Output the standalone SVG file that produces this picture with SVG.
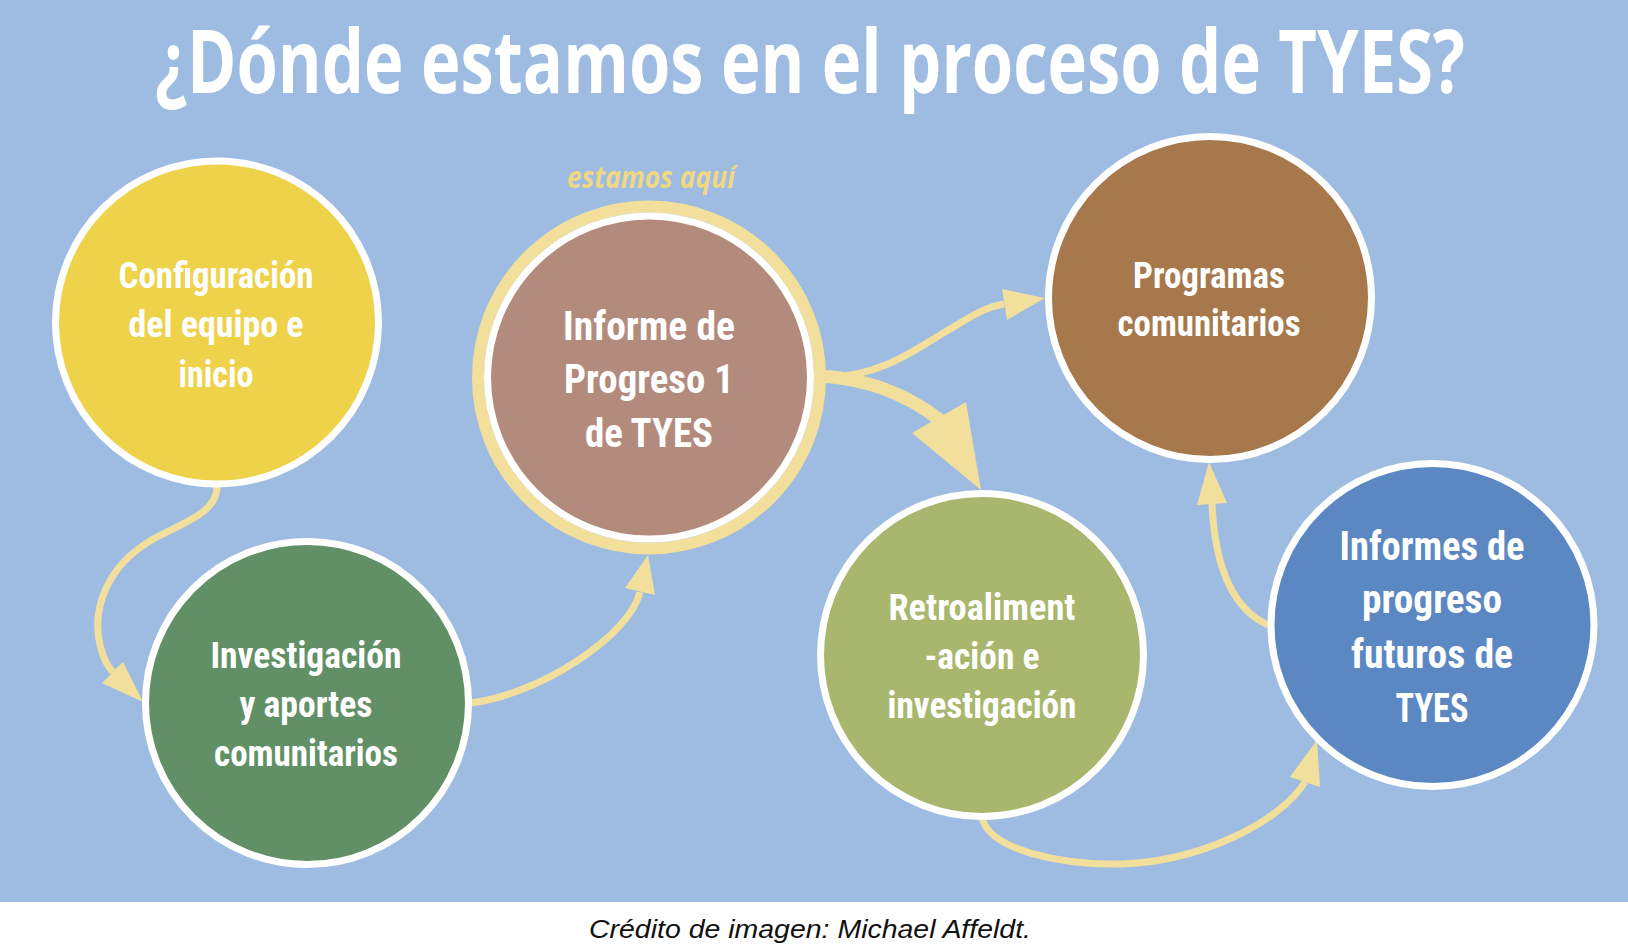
<svg xmlns="http://www.w3.org/2000/svg" width="1628" height="952" viewBox="0 0 1628 952">
<style>
.bg{fill:#9EBCE1}
.node{stroke:#FFFFFF;stroke-width:7}
.lbl{font-family:"Liberation Sans Narrow","Roboto Condensed","Open Sans","Liberation Sans",sans-serif;font-weight:bold;fill:#FFFFFF;text-anchor:middle}
.s{font-size:37px}
.l{font-size:41px}
.conn{fill:none;stroke:#F2DF9C;stroke-width:7}
.thick{stroke-width:13}
.head{fill:#F2DF9C}
</style>
<rect x="0" y="0" width="1628" height="952" fill="#FFFFFF"/>
<rect class="bg" x="0" y="0" width="1628" height="902"/>
<text x="810" y="93" font-family="'Liberation Sans Narrow','Open Sans','Liberation Sans',sans-serif" font-weight="bold" font-size="88" fill="#FFFFFF" text-anchor="middle" textLength="1310" lengthAdjust="spacingAndGlyphs">¿Dónde estamos en el proceso de TYES?</text>
<g id="connectors">
<path class="conn" d="M217,487 C217,512 185,522 155,538 C105,566 92,610 100,645 C103,658 107,666 113,672"/>
<polygon class="head" points="102,683 123,662 143,702"/>
<path class="conn" d="M470,703 C540,695 630,635 640,592"/>
<polygon class="head" points="625,588 655,595 648,555"/>
<path class="conn thick" d="M818,376 C865,378 905,393 940,420"/>
<polygon class="head" points="912,433 966,402 981,490"/>
<path class="conn" d="M830,377 C880,376 915,350 945,332 C970,317 985,307 1004,304"/>
<polygon class="head" points="1002,289 1007,320 1045,298"/>
<path class="conn" d="M982,818 C990,850 1060,865 1120,864 C1200,862 1280,822 1305,782"/>
<polygon class="head" points="1290,777 1320,787 1317,740"/>
<path class="conn" d="M1268,625 C1235,610 1215,570 1212,504"/>
<polygon class="head" points="1197,505 1227,503 1209,462"/>
</g>
<g id="node-configuracion">
<circle class="node" cx="217" cy="322.5" r="161.5" fill="#EDD24A"/>
<text class="lbl s" x="216" y="288" textLength="195" lengthAdjust="spacingAndGlyphs">Configuración</text>
<text class="lbl s" x="216" y="337" textLength="175" lengthAdjust="spacingAndGlyphs">del equipo e</text>
<text class="lbl s" x="216" y="387" textLength="75" lengthAdjust="spacingAndGlyphs">inicio</text>
</g>
<g id="node-investigacion">
<circle class="node" cx="307" cy="703" r="161.5" fill="#629066"/>
<text class="lbl s" x="306" y="668" textLength="191" lengthAdjust="spacingAndGlyphs">Investigación</text>
<text class="lbl s" x="306" y="717" textLength="133" lengthAdjust="spacingAndGlyphs">y aportes</text>
<text class="lbl s" x="306" y="766" textLength="184" lengthAdjust="spacingAndGlyphs">comunitarios</text>
</g>
<g id="node-informe1">
<text x="651" y="188" font-family="'Liberation Sans Narrow','Open Sans','Liberation Sans',sans-serif" font-weight="bold" font-style="italic" font-size="30" fill="#EFD784" text-anchor="middle" textLength="168" lengthAdjust="spacingAndGlyphs">estamos aquí</text>
<circle cx="649" cy="377.5" r="171" fill="none" stroke="#F2DF9C" stroke-width="12"/>
<circle class="node" cx="649" cy="377.5" r="161.5" fill="#B38B7D"/>
<text class="lbl l" x="649" y="340" textLength="172" lengthAdjust="spacingAndGlyphs">Informe de</text>
<text class="lbl l" x="649" y="393" textLength="170" lengthAdjust="spacingAndGlyphs">Progreso 1</text>
<text class="lbl l" x="649" y="447" textLength="128" lengthAdjust="spacingAndGlyphs">de TYES</text>
</g>
<g id="node-programas">
<circle class="node" cx="1210" cy="298" r="161.5" fill="#A6784C"/>
<text class="lbl s" x="1209" y="288" textLength="152" lengthAdjust="spacingAndGlyphs">Programas</text>
<text class="lbl s" x="1209" y="336" textLength="183" lengthAdjust="spacingAndGlyphs">comunitarios</text>
</g>
<g id="node-retroalimentacion">
<circle class="node" cx="982" cy="655" r="161.5" fill="#A8B76D"/>
<text class="lbl s" x="982" y="620" textLength="187" lengthAdjust="spacingAndGlyphs">Retroaliment</text>
<text class="lbl s" x="982" y="669" textLength="115" lengthAdjust="spacingAndGlyphs">-ación e</text>
<text class="lbl s" x="982" y="718" textLength="189" lengthAdjust="spacingAndGlyphs">investigación</text>
</g>
<g id="node-futuros">
<circle class="node" cx="1432.5" cy="625" r="161.5" fill="#5B88C3"/>
<text class="lbl l" x="1432" y="560" textLength="185" lengthAdjust="spacingAndGlyphs">Informes de</text>
<text class="lbl l" x="1432" y="613" textLength="140" lengthAdjust="spacingAndGlyphs">progreso</text>
<text class="lbl l" x="1432" y="668" textLength="162" lengthAdjust="spacingAndGlyphs">futuros de</text>
<text class="lbl l" x="1432" y="722" textLength="73" lengthAdjust="spacingAndGlyphs">TYES</text>
</g>
<text x="810" y="938" font-family="'Liberation Sans',Arial,sans-serif" font-style="italic" font-size="26" fill="#111111" text-anchor="middle" textLength="442" lengthAdjust="spacingAndGlyphs">Crédito de imagen: Michael Affeldt.</text>
</svg>
